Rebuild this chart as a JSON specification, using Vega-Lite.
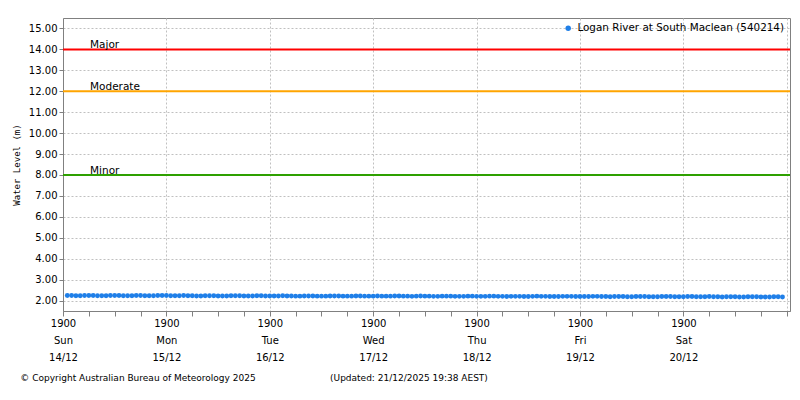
{
  "$schema": "https://vega.github.io/schema/vega-lite/v6.json",
  "width": 727,
  "height": 293,
  "padding": {"left": 12, "top": 18, "right": 5, "bottom": 5},
  "background": "white",
  "title": {
    "text": "© Copyright Australian Bureau of Meteorology 2025\u00a0\u00a0\u00a0\u00a0\u00a0\u00a0\u00a0\u00a0\u00a0\u00a0\u00a0\u00a0\u00a0\u00a0\u00a0\u00a0\u00a0\u00a0\u00a0\u00a0\u00a0\u00a0\u00a0\u00a0\u00a0\u00a0(Updated: 21/12/2025 19:38 AEST)",
    "orient": "bottom",
    "anchor": "start",
    "frame": "bounds",
    "font": "DejaVu Sans",
    "fontSize": 9,
    "fontWeight": "normal",
    "color": "black",
    "offset": 12,
    "dx": 8
  },
  "datasets": {
    "levels": [
      {"t":"2025-12-14T20:00Z","v":2.24},{"t":"2025-12-14T21:00Z","v":2.24},{"t":"2025-12-14T22:00Z","v":2.23},{"t":"2025-12-14T23:00Z","v":2.23},
      {"t":"2025-12-15T00:00Z","v":2.24},{"t":"2025-12-15T01:00Z","v":2.24},{"t":"2025-12-15T02:00Z","v":2.24},{"t":"2025-12-15T03:00Z","v":2.23},
      {"t":"2025-12-15T04:00Z","v":2.23},{"t":"2025-12-15T05:00Z","v":2.23},{"t":"2025-12-15T06:00Z","v":2.24},{"t":"2025-12-15T07:00Z","v":2.24},
      {"t":"2025-12-15T08:00Z","v":2.24},{"t":"2025-12-15T09:00Z","v":2.23},{"t":"2025-12-15T10:00Z","v":2.23},{"t":"2025-12-15T11:00Z","v":2.23},
      {"t":"2025-12-15T12:00Z","v":2.24},{"t":"2025-12-15T13:00Z","v":2.24},{"t":"2025-12-15T14:00Z","v":2.23},{"t":"2025-12-15T15:00Z","v":2.23},
      {"t":"2025-12-15T16:00Z","v":2.23},{"t":"2025-12-15T17:00Z","v":2.24},{"t":"2025-12-15T18:00Z","v":2.24},{"t":"2025-12-15T19:00Z","v":2.24},
      {"t":"2025-12-15T20:00Z","v":2.23},{"t":"2025-12-15T21:00Z","v":2.23},{"t":"2025-12-15T22:00Z","v":2.23},{"t":"2025-12-15T23:00Z","v":2.24},
      {"t":"2025-12-16T00:00Z","v":2.23},{"t":"2025-12-16T01:00Z","v":2.23},{"t":"2025-12-16T02:00Z","v":2.22},{"t":"2025-12-16T03:00Z","v":2.22},
      {"t":"2025-12-16T04:00Z","v":2.23},{"t":"2025-12-16T05:00Z","v":2.23},{"t":"2025-12-16T06:00Z","v":2.23},{"t":"2025-12-16T07:00Z","v":2.22},
      {"t":"2025-12-16T08:00Z","v":2.22},{"t":"2025-12-16T09:00Z","v":2.22},{"t":"2025-12-16T10:00Z","v":2.23},{"t":"2025-12-16T11:00Z","v":2.23},
      {"t":"2025-12-16T12:00Z","v":2.23},{"t":"2025-12-16T13:00Z","v":2.22},{"t":"2025-12-16T14:00Z","v":2.22},{"t":"2025-12-16T15:00Z","v":2.22},
      {"t":"2025-12-16T16:00Z","v":2.23},{"t":"2025-12-16T17:00Z","v":2.23},{"t":"2025-12-16T18:00Z","v":2.22},{"t":"2025-12-16T19:00Z","v":2.22},
      {"t":"2025-12-16T20:00Z","v":2.22},{"t":"2025-12-16T21:00Z","v":2.22},{"t":"2025-12-16T22:00Z","v":2.23},{"t":"2025-12-16T23:00Z","v":2.22},
      {"t":"2025-12-17T00:00Z","v":2.22},{"t":"2025-12-17T01:00Z","v":2.21},{"t":"2025-12-17T02:00Z","v":2.21},{"t":"2025-12-17T03:00Z","v":2.22},
      {"t":"2025-12-17T04:00Z","v":2.22},{"t":"2025-12-17T05:00Z","v":2.22},{"t":"2025-12-17T06:00Z","v":2.21},{"t":"2025-12-17T07:00Z","v":2.21},
      {"t":"2025-12-17T08:00Z","v":2.21},{"t":"2025-12-17T09:00Z","v":2.22},{"t":"2025-12-17T10:00Z","v":2.22},{"t":"2025-12-17T11:00Z","v":2.22},
      {"t":"2025-12-17T12:00Z","v":2.21},{"t":"2025-12-17T13:00Z","v":2.21},{"t":"2025-12-17T14:00Z","v":2.21},{"t":"2025-12-17T15:00Z","v":2.22},
      {"t":"2025-12-17T16:00Z","v":2.22},{"t":"2025-12-17T17:00Z","v":2.21},{"t":"2025-12-17T18:00Z","v":2.21},{"t":"2025-12-17T19:00Z","v":2.21},
      {"t":"2025-12-17T20:00Z","v":2.22},{"t":"2025-12-17T21:00Z","v":2.21},{"t":"2025-12-17T22:00Z","v":2.21},{"t":"2025-12-17T23:00Z","v":2.21},
      {"t":"2025-12-18T00:00Z","v":2.22},{"t":"2025-12-18T01:00Z","v":2.22},{"t":"2025-12-18T02:00Z","v":2.21},{"t":"2025-12-18T03:00Z","v":2.21},
      {"t":"2025-12-18T04:00Z","v":2.20},{"t":"2025-12-18T05:00Z","v":2.21},{"t":"2025-12-18T06:00Z","v":2.22},{"t":"2025-12-18T07:00Z","v":2.21},
      {"t":"2025-12-18T08:00Z","v":2.21},{"t":"2025-12-18T09:00Z","v":2.20},{"t":"2025-12-18T10:00Z","v":2.20},{"t":"2025-12-18T11:00Z","v":2.21},
      {"t":"2025-12-18T12:00Z","v":2.21},{"t":"2025-12-18T13:00Z","v":2.21},{"t":"2025-12-18T14:00Z","v":2.20},{"t":"2025-12-18T15:00Z","v":2.20},
      {"t":"2025-12-18T16:00Z","v":2.20},{"t":"2025-12-18T17:00Z","v":2.21},{"t":"2025-12-18T18:00Z","v":2.21},{"t":"2025-12-18T19:00Z","v":2.20},
      {"t":"2025-12-18T20:00Z","v":2.20},{"t":"2025-12-18T21:00Z","v":2.20},{"t":"2025-12-18T22:00Z","v":2.21},{"t":"2025-12-18T23:00Z","v":2.21},
      {"t":"2025-12-19T00:00Z","v":2.20},{"t":"2025-12-19T01:00Z","v":2.20},{"t":"2025-12-19T02:00Z","v":2.19},{"t":"2025-12-19T03:00Z","v":2.20},
      {"t":"2025-12-19T04:00Z","v":2.20},{"t":"2025-12-19T05:00Z","v":2.20},{"t":"2025-12-19T06:00Z","v":2.19},{"t":"2025-12-19T07:00Z","v":2.19},
      {"t":"2025-12-19T08:00Z","v":2.20},{"t":"2025-12-19T09:00Z","v":2.21},{"t":"2025-12-19T10:00Z","v":2.20},{"t":"2025-12-19T11:00Z","v":2.20},
      {"t":"2025-12-19T12:00Z","v":2.19},{"t":"2025-12-19T13:00Z","v":2.19},{"t":"2025-12-19T14:00Z","v":2.19},{"t":"2025-12-19T15:00Z","v":2.20},
      {"t":"2025-12-19T16:00Z","v":2.20},{"t":"2025-12-19T17:00Z","v":2.20},{"t":"2025-12-19T18:00Z","v":2.19},{"t":"2025-12-19T19:00Z","v":2.19},
      {"t":"2025-12-19T20:00Z","v":2.19},{"t":"2025-12-19T21:00Z","v":2.19},{"t":"2025-12-19T22:00Z","v":2.20},{"t":"2025-12-19T23:00Z","v":2.20},
      {"t":"2025-12-20T00:00Z","v":2.19},{"t":"2025-12-20T01:00Z","v":2.19},{"t":"2025-12-20T02:00Z","v":2.18},{"t":"2025-12-20T03:00Z","v":2.19},
      {"t":"2025-12-20T04:00Z","v":2.19},{"t":"2025-12-20T05:00Z","v":2.19},{"t":"2025-12-20T06:00Z","v":2.18},{"t":"2025-12-20T07:00Z","v":2.18},
      {"t":"2025-12-20T08:00Z","v":2.19},{"t":"2025-12-20T09:00Z","v":2.19},{"t":"2025-12-20T10:00Z","v":2.19},{"t":"2025-12-20T11:00Z","v":2.18},
      {"t":"2025-12-20T12:00Z","v":2.18},{"t":"2025-12-20T13:00Z","v":2.18},{"t":"2025-12-20T14:00Z","v":2.19},{"t":"2025-12-20T15:00Z","v":2.19},
      {"t":"2025-12-20T16:00Z","v":2.19},{"t":"2025-12-20T17:00Z","v":2.18},{"t":"2025-12-20T18:00Z","v":2.18},{"t":"2025-12-20T19:00Z","v":2.18},
      {"t":"2025-12-20T20:00Z","v":2.19},{"t":"2025-12-20T21:00Z","v":2.19},{"t":"2025-12-20T22:00Z","v":2.18},{"t":"2025-12-20T23:00Z","v":2.18},
      {"t":"2025-12-21T00:00Z","v":2.18},{"t":"2025-12-21T01:00Z","v":2.19},{"t":"2025-12-21T02:00Z","v":2.18},{"t":"2025-12-21T03:00Z","v":2.18},
      {"t":"2025-12-21T04:00Z","v":2.17},{"t":"2025-12-21T05:00Z","v":2.18},{"t":"2025-12-21T06:00Z","v":2.18},{"t":"2025-12-21T07:00Z","v":2.18},
      {"t":"2025-12-21T08:00Z","v":2.17},{"t":"2025-12-21T09:00Z","v":2.17},{"t":"2025-12-21T10:00Z","v":2.18},{"t":"2025-12-21T11:00Z","v":2.18},
      {"t":"2025-12-21T12:00Z","v":2.18},{"t":"2025-12-21T13:00Z","v":2.17},{"t":"2025-12-21T14:00Z","v":2.17},{"t":"2025-12-21T15:00Z","v":2.17},
      {"t":"2025-12-21T16:00Z","v":2.18},{"t":"2025-12-21T17:00Z","v":2.18},{"t":"2025-12-21T18:00Z","v":2.17}
    ],
    "thresholds": [
      {"level": "Major", "value": 14},
      {"level": "Moderate", "value": 12},
      {"level": "Minor", "value": 8}
    ]
  },
  "layer": [
    {
      "data": {"name": "thresholds"},
      "mark": {"type": "rule", "strokeWidth": 2},
      "encoding": {
        "y": {
          "field": "value",
          "type": "quantitative",
          "scale": {"domain": [1.5, 15.5], "nice": false, "zero": false},
          "axis": {
            "values": [2,3,4,5,6,7,8,9,10,11,12,13,14,15],
            "tickCount": 14,
            "format": ".2f",
            "labelOverlap": false,
            "title": "Water Level (m)",
            "titleFont": "DejaVu Sans Mono",
            "titleFontSize": 9,
            "titleFontWeight": "normal",
            "tickSize": 4,
            "labelPadding": 2,
            "titlePadding": 7
          }
        },
        "color": {
          "field": "level",
          "type": "nominal",
          "scale": {"domain": ["Major", "Moderate", "Minor"], "range": ["#ff0000", "#ffa500", "#2ea000"]},
          "legend": null
        }
      }
    },
    {
      "data": {"name": "thresholds"},
      "mark": {"type": "text", "align": "left", "baseline": "alphabetic", "dx": 27, "dy": -1, "font": "DejaVu Sans", "fontSize": 10.5, "color": "black"},
      "encoding": {
        "x": {
          "datum": 1765738800000,
          "type": "temporal",
          "axis": {
            "orient": "bottom",
            "title": null,
            "values": [1765738800000,1765825200000,1765911600000,1765998000000,1766084400000,1766170800000,1766257200000,1766343600000],
            "grid": true,
            "labels": false,
            "ticks": false,
            "domain": false
          }
        },
        "y": {
          "field": "value",
          "type": "quantitative",
          "axis": {
            "values": [2,3,4,5,6,7,8,9,10,11,12,13,14,15],
            "tickCount": 14,
            "format": ".2f",
            "labelOverlap": false,
            "title": "Water Level (m)",
            "titleFont": "DejaVu Sans Mono",
            "titleFontSize": 9,
            "titleFontWeight": "normal",
            "tickSize": 4,
            "labelPadding": 2,
            "titlePadding": 7
          }
        },
        "text": {"field": "level"}
      }
    },
    {
      "data": {"name": "levels"},
      "mark": {"type": "point", "filled": true, "size": 24, "opacity": 1},
      "encoding": {
        "x": {
          "field": "t",
          "type": "temporal",
          "scale": {"type": "utc", "domain": [1765738800000, 1766346300000]},
          "axis": {
            "orient": "bottom",
            "title": null,
            "grid": false,
            "values": [1765738800000,1765760400000,1765782000000,1765803600000,1765825200000,1765846800000,1765868400000,1765890000000,1765911600000,1765933200000,1765954800000,1765976400000,1765998000000,1766019600000,1766041200000,1766062800000,1766084400000,1766106000000,1766127600000,1766149200000,1766170800000,1766192400000,1766214000000,1766235600000,1766257200000,1766278800000,1766300400000,1766322000000,1766343600000],
            "labelExpr": "utchours(datum.value) == 19 && datum.value < 1766343600000 ? [utcFormat(datum.value, '%H%M'), utcFormat(datum.value, '%a'), utcFormat(datum.value, '%d/%m')] : ''",
            "labelOverlap": false,
            "labelFlush": false,
            "labelBound": false,
            "tickSize": 5,
            "labelPadding": 2,
            "labelLineHeight": 17,
            "labelBaseline": "top"
          }
        },
        "y": {
          "field": "v",
          "type": "quantitative",
          "axis": {
            "values": [2,3,4,5,6,7,8,9,10,11,12,13,14,15],
            "tickCount": 14,
            "format": ".2f",
            "labelOverlap": false,
            "title": "Water Level (m)",
            "titleFont": "DejaVu Sans Mono",
            "titleFontSize": 9,
            "titleFontWeight": "normal",
            "tickSize": 4,
            "labelPadding": 2,
            "titlePadding": 7
          }
        },
        "color": {
          "datum": "Logan River at South Maclean (540214)",
          "type": "nominal",
          "scale": {"range": ["#1f7fe8"]},
          "legend": {
            "orient": "top-right",
            "title": null,
            "offset": 5,
            "padding": 0,
            "labelLimit": 0,
            "symbolType": "circle",
            "symbolSize": 30,
            "labelFont": "DejaVu Sans",
            "labelFontSize": 10.4,
            "labelColor": "black"
          }
        }
      }
    }
  ],
  "resolve": {"scale": {"color": "independent"}, "axis": {"x": "independent"}},
  "config": {
    "view": {"stroke": "#808080", "strokeWidth": 1},
    "axis": {
      "domainColor": "#808080",
      "tickColor": "#808080",
      "gridColor": "#c0c0c0",
      "gridDash": [2, 2],
      "labelFont": "DejaVu Sans",
      "labelFontSize": 10,
      "labelColor": "black",
      "titleColor": "black"
    },
    "axisY": {"labelOverlap": false}
  }
}
